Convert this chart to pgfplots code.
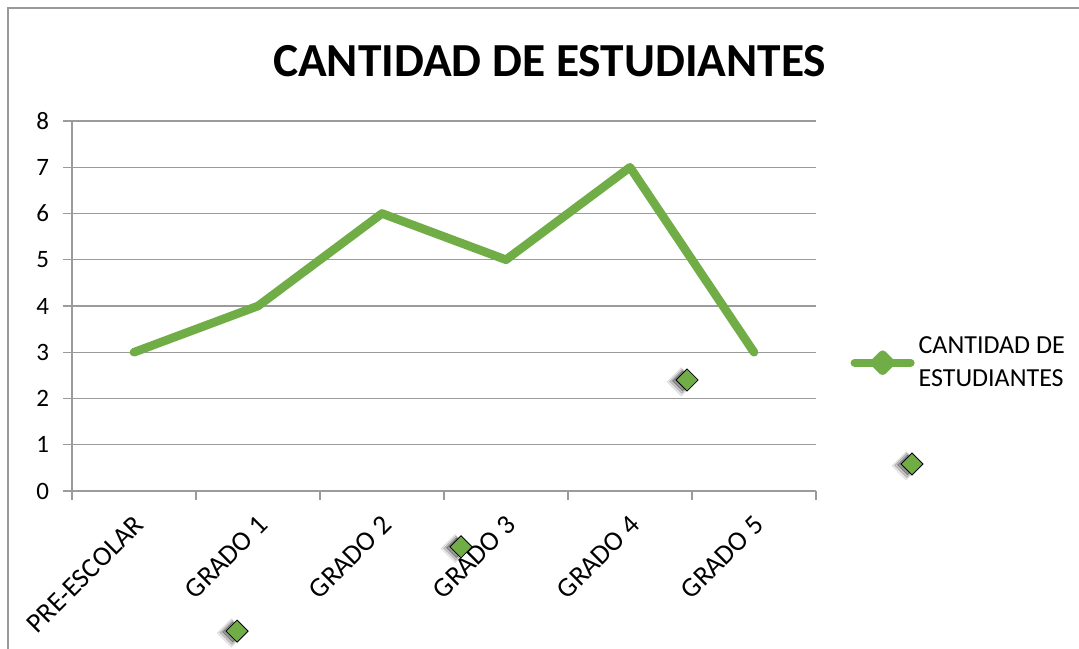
\documentclass[border=0pt]{standalone}
\usepackage{fontspec}
\setmainfont{Carlito}
\usepackage{pgfplots}
\pgfplotsset{compat=1.18}
\definecolor{lg}{RGB}{112,173,71}
\definecolor{axc}{RGB}{155,155,155}
\begin{document}
\begin{tikzpicture}
\useasboundingbox (-36pt,-78.5pt) rectangle (503.5pt,245.5pt);
\draw[black!40, line width=0.75pt] (-32pt,-90pt) -- (-32pt,241.5pt) -- (520pt,241.5pt);
\begin{axis}[
  scale only axis, width=372pt, height=185pt,
  xmin=-0.5, xmax=5.5, ymin=0, ymax=8,
  clip=false,
  axis x line*=bottom, axis y line*=left,
  axis line style={axc, line width=0.6pt},
  xtick={0,...,5},
  xticklabels={PRE-ESCOLAR,GRADO 1,GRADO 2,GRADO 3,GRADO 4,GRADO 5},
  major x tick style={draw=none},
  minor xtick={-0.5,0.5,1.5,2.5,3.5,4.5,5.5},
  minor x tick style={axc, line width=0.6pt},
  ytick={0,...,8},
  y tick style={axc, line width=0.6pt},
  tick align=outside,
  major tick length=4.5pt, minor tick length=4.5pt,
  ymajorgrids, grid style={axc, line width=0.6pt},
  /pgf/number format/assume math mode=true,
  yticklabel style={font=\fontsize{12.5}{15}\selectfont, xshift=-3.5pt},
  xticklabel style={font=\fontsize{13.8}{15}\selectfont, rotate=45, anchor=east, xshift=-2pt, yshift=-9pt},
  title={CANTIDAD DE ESTUDIANTES},
  title style={at={(axis description cs:0.642,1.13)}, anchor=center, font=\fontsize{23.7}{28}\selectfont\bfseries},
  legend style={draw=none, fill=none, at={(1.046,0.43)}, anchor=north west,
    font=\fontsize{13}{16.5}\selectfont, nodes={align=left}, inner sep=0pt},
  legend cell align=left,
  legend image code/.code={
    \draw[lg, line width=4pt, line cap=round] (0pt,0pt) -- (28pt,0pt);
    \fill[lg] (14pt,4pt) -- (18pt,0pt) -- (14pt,-4pt) -- (10pt,0pt) -- cycle;
  },
]
\addplot[lg, line width=4.3pt, line join=round, line cap=round] coordinates {
  (0,3) (1,4) (2,6) (3,5) (4,7) (5,3)
};
\addlegendentry{CANTIDAD DE\\ESTUDIANTES}
% displaced marker shadows (soft, layered)
\addplot[only marks, mark=square*, mark size=5.0pt, forget plot,
  mark options={rotate=45, draw=none, fill=black, opacity=0.08}] coordinates {
  (0.785,-3.07) (2.59,-1.247) (4.413,2.36) (6.227,0.544)
};
\addplot[only marks, mark=square*, mark size=4.3pt, forget plot,
  mark options={rotate=45, draw=none, fill=black, opacity=0.15}] coordinates {
  (0.79,-3.06) (2.595,-1.237) (4.418,2.37) (6.232,0.554)
};
\addplot[only marks, mark=square*, mark size=3.5pt, forget plot,
  mark options={rotate=45, draw=none, fill=black, opacity=0.25}] coordinates {
  (0.795,-3.05) (2.60,-1.227) (4.423,2.38) (6.237,0.564)
};
% displaced markers
\addplot[only marks, mark=square*, mark size=3.9pt, forget plot,
  mark options={rotate=45, draw=none, fill=lg}] coordinates {
  (0.831,-3.03) (2.637,-1.207) (4.46,2.40) (6.274,0.584)
};
\end{axis}
\end{tikzpicture}
\end{document}
